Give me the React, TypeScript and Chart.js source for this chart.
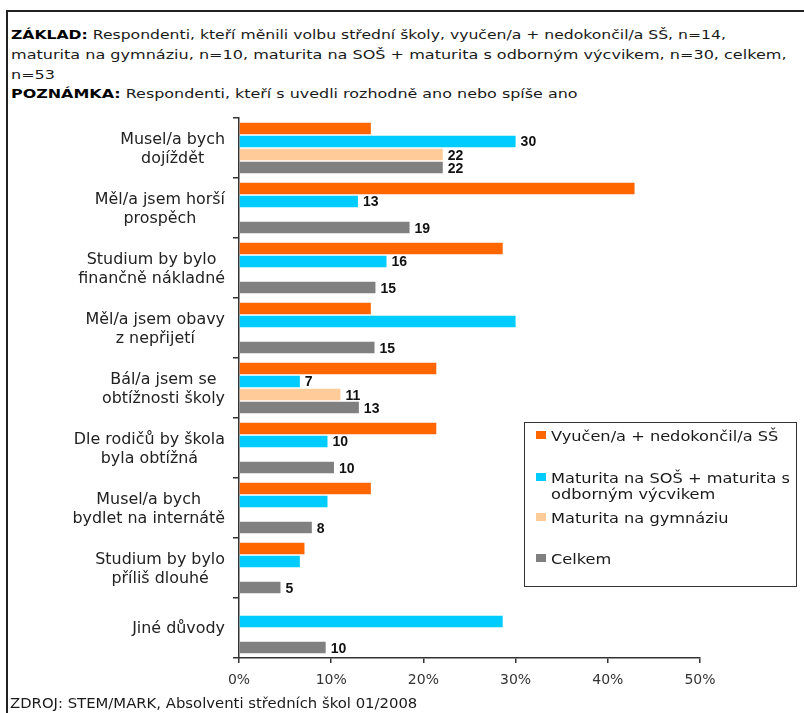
import React, { useEffect, useRef } from "react";
import { Chart, registerables } from "chart.js";

Chart.register(...registerables);

// ---------- DATA ----------
const categories: string[][] = [
  ["Musel/a bych", "dojíždět"],
  ["Měl/a jsem horší", "prospěch"],
  ["Studium by bylo", "finančně nákladné"],
  ["Měl/a jsem obavy", "z nepřijetí"],
  ["Bál/a jsem se", "obtížnosti školy"],
  ["Dle rodičů by škola", "byla obtížná"],
  ["Musel/a bych", "bydlet na internátě"],
  ["Studium by bylo", "příliš dlouhé"],
  ["Jiné důvody"],
];

const seriesNames = [
  "Vyučen/a + nedokončil/a SŠ",
  "Maturita na SOŠ + maturita s odborným výcvikem",
  "Maturita na gymnáziu",
  "Celkem",
];

const legendLines: string[][] = [
  ["Vyučen/a + nedokončil/a SŠ"],
  ["Maturita na SOŠ + maturita s", "odborným výcvikem"],
  ["Maturita na gymnáziu"],
  ["Celkem"],
];

const vyucenValues = [14.3, 42.9, 28.6, 14.3, 21.4, 21.4, 14.3, 7.1, null];
const sosValues = [30, 12.9, 16, 30, 6.6, 9.6, 9.6, 6.6, 28.6];
const gymValues = [22.1, null, null, null, 11, null, null, null, null];
const celkemValues = [22.1, 18.5, 14.8, 14.7, 13, 10.3, 7.9, 4.5, 9.4];

const vyucenLabels = [null, null, null, null, null, null, null, null, null];
const sosLabels = [30, 13, 16, null, 7, 10, null, null, null];
const gymLabels = [22, null, null, null, 11, null, null, null, null];
const celkemLabels = [22, 19, 15, 15, 13, 10, 8, 5, 10];

const xTickValues = [0, 10, 20, 30, 40, 50];

const headerLine1Bold = "ZÁKLAD:";
const headerLine1 = " Respondenti, kteří měnili volbu střední školy, vyučen/a + nedokončil/a SŠ, n=14,";
const headerLine2 = "maturita na gymnáziu, n=10, maturita na SOŠ + maturita s odborným výcvikem, n=30, celkem,";
const headerLine3 = "n=53";
const headerLine4Bold = "POZNÁMKA:";
const headerLine4 = " Respondenti, kteří s uvedli rozhodně ano nebo spíše ano";
const sourceText = "ZDROJ: STEM/MARK, Absolventi středních škol 01/2008";

// ---------- STYLES ----------
const seriesColors = ["#FF6600", "#00CCFF", "#FFCC99", "#808080"];
const FONT = '"DejaVu Sans", Verdana, sans-serif';

const allValues = [vyucenValues, sosValues, gymValues, celkemValues];
const allLabels = [vyucenLabels, sosLabels, gymLabels, celkemLabels];

// y-axis category labels (centered lines, block right-aligned)
const Y_LABEL_RIGHT = 225;
const Y_LABEL_FS = 15;
const Y_LABEL_SX = 1.06;
const Y_LABEL_LH = 18.4;

const yLabelPlugin = {
  id: "yLabelPlugin",
  afterDraw(chart: any) {
    const ctx = chart.ctx;
    const ys = chart.scales.y;
    ctx.save();
    ctx.font = `${Y_LABEL_FS}px ${FONT}`;
    ctx.fillStyle = "#222";
    ctx.textAlign = "center";
    ctx.textBaseline = "alphabetic";
    const cap = Y_LABEL_FS * 0.729;
    categories.forEach((lines, i) => {
      const cy = ys.getPixelForValue(i);
      const widths = lines.map((l) => ctx.measureText(l).width * Y_LABEL_SX);
      const maxW = Math.max(...widths);
      const cx = Y_LABEL_RIGHT - maxW / 2;
      const first = cy - ((lines.length - 1) * Y_LABEL_LH) / 2 + cap / 2;
      lines.forEach((l, k) => {
        ctx.save();
        ctx.translate(cx, first + k * Y_LABEL_LH);
        ctx.scale(Y_LABEL_SX, 1);
        ctx.fillText(l, 0, 0);
        ctx.restore();
      });
    });
    ctx.restore();
  },
};

const valueLabelPlugin = {
  id: "valueLabelPlugin",
  afterDatasetsDraw(chart: any) {
    const ctx = chart.ctx;
    ctx.save();
    ctx.font = 'bold 14px "Liberation Sans", Arial, sans-serif';
    ctx.fillStyle = "#111";
    ctx.textAlign = "left";
    ctx.textBaseline = "alphabetic";
    allLabels.forEach((labels, di) => {
      const meta = chart.getDatasetMeta(di);
      labels.forEach((lab, j) => {
        if (lab === null || lab === undefined) return;
        const el = meta.data[j];
        if (!el) return;
        ctx.fillText(String(lab), el.x + 5, el.y + 5);
      });
    });
    ctx.restore();
  },
};

function Txt(props: {
  x: number;
  baseline: number;
  fs: number;
  sx?: number;
  color?: string;
  children: any;
}) {
  const { x, baseline, fs, sx = 1, color = "#1a1a1a", children } = props;
  const top = baseline - 0.846 * fs;
  return (
    <div
      style={{
        position: "absolute",
        left: x,
        top,
        fontSize: fs,
        lineHeight: `${fs}px`,
        fontFamily: FONT,
        whiteSpace: "nowrap",
        color,
        transform: `scaleX(${sx})`,
        transformOrigin: "0 0",
      }}
    >
      {children}
    </div>
  );
}

export default function App() {
  const canvasRef = useRef<HTMLCanvasElement | null>(null);

  useEffect(() => {
    if (!canvasRef.current) return;
    const chart = new Chart(canvasRef.current, {
      type: "bar",
      data: {
        labels: categories as any,
        datasets: seriesNames.map((name, i) => ({
          label: name,
          data: allValues[i] as any,
          backgroundColor: seriesColors[i],
          borderWidth: 0,
          categoryPercentage: 0.867,
          barPercentage: 0.87,
        })),
      },
      options: {
        indexAxis: "y",
        responsive: false,
        animation: false,
        maintainAspectRatio: false,
        layout: { padding: { top: 118, right: 104, bottom: 25, left: 0 } },
        plugins: {
          legend: { display: false },
          tooltip: { enabled: false },
          title: { display: false },
        },
        scales: {
          y: {
            type: "category",
            grid: {
              drawOnChartArea: false,
              offset: true,
              tickLength: 6,
              color: "#333",
              lineWidth: 1.5,
            },
            border: { color: "#333", width: 1.5 },
            ticks: { display: false },
            afterFit: (scale: any) => {
              scale.width = 239;
            },
          },
          x: {
            type: "linear",
            min: 0,
            max: 50,
            afterBuildTicks: (scale: any) => {
              scale.ticks = xTickValues.map((v) => ({ value: v }));
            },
            ticks: {
              callback: (v: any) => `${v}%`,
              font: { family: FONT, size: 14 },
              color: "#333",
              padding: 9,
              maxRotation: 0,
            },
            grid: {
              drawOnChartArea: false,
              tickLength: 5,
              color: "#333",
              lineWidth: 1.5,
            },
            border: { color: "#333", width: 1.5 },
            afterFit: (scale: any) => {
              scale.height = 30;
            },
          },
        },
      },
      plugins: [yLabelPlugin, valueLabelPlugin],
    } as any);
    return () => chart.destroy();
  }, []);

  const legendBaselines = [440.7, 482.7, 522.7, 564];

  return (
    <div
      style={{
        position: "fixed",
        left: 0,
        top: 0,
        width: 804,
        height: 713,
        overflow: "hidden",
        background: "#fff",
      }}
    >
      {/* frame */}
      <div style={{ position: "absolute", left: 6, top: 9.5, width: 798, height: 2, background: "#222" }} />
      <div style={{ position: "absolute", left: 6, top: 9.5, width: 2, height: 704, background: "#222" }} />

      {/* header */}
      <Txt x={10.5} baseline={40} fs={12.5} sx={1.25}>
        <b style={{ color: "#000" }}>{headerLine1Bold}</b>
        {headerLine1}
      </Txt>
      <Txt x={10.5} baseline={59.7} fs={12.5} sx={1.284}>
        {headerLine2}
      </Txt>
      <Txt x={10.5} baseline={79.4} fs={12.5} sx={1.284}>
        {headerLine3}
      </Txt>
      <Txt x={10.5} baseline={99} fs={12.5} sx={1.275}>
        <b style={{ color: "#000" }}>{headerLine4Bold}</b>
        {headerLine4}
      </Txt>

      <canvas
        ref={canvasRef}
        width={804}
        height={713}
        style={{ position: "absolute", left: 0, top: 0, width: 804, height: 713 }}
      />

      {/* legend */}
      <div
        style={{
          position: "absolute",
          left: 524,
          top: 422,
          width: 273,
          height: 165,
          border: "1.5px solid #333",
          boxSizing: "border-box",
        }}
      />
      {legendLines.map((lines, i) => (
        <React.Fragment key={i}>
          <div
            style={{
              position: "absolute",
              left: 536,
              top: legendBaselines[i] - 10,
              width: 10,
              height: 8,
              background: seriesColors[i],
            }}
          />
          {lines.map((l, k) => (
            <Txt key={k} x={550.7} baseline={legendBaselines[i] + k * 16.6} fs={14} sx={1.157} color="#1a1a1a">
              {l}
            </Txt>
          ))}
        </React.Fragment>
      ))}

      {/* source */}
      <Txt x={10} baseline={708.3} fs={14} sx={1.06}>
        {sourceText}
      </Txt>
    </div>
  );
}
